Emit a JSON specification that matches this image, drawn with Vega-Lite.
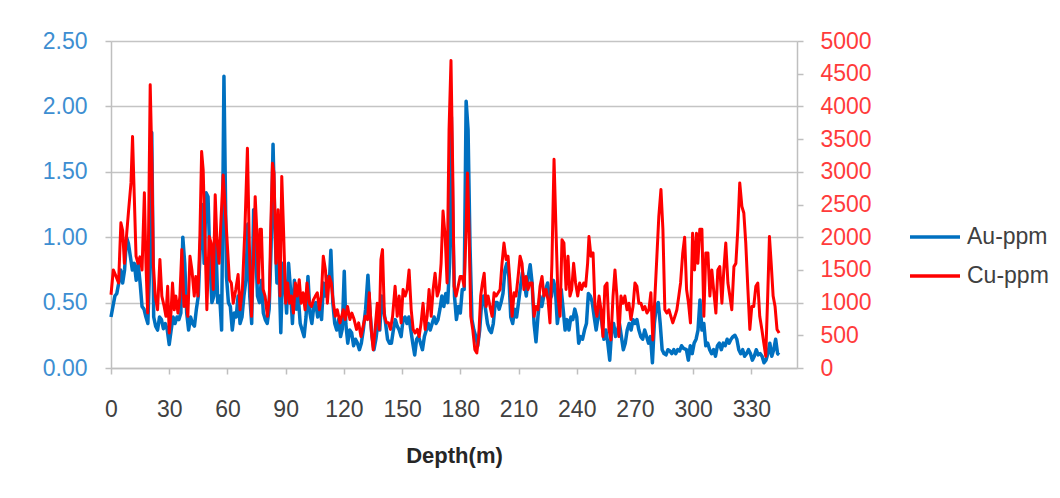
{
"$schema": "https://vega.github.io/schema/vega-lite/v6.json",
"width": 686, "height": 327,
"autosize": "none",
"padding": {"left": 111, "top": 41, "right": 263, "bottom": 130},
"background": "white",
"config": {
  "view": {"stroke": null},
  "font": "Liberation Sans",
  "axis": {"domainColor": "#bfbfbf", "domainWidth": 1.5, "tickColor": "#bfbfbf", "tickWidth": 1.5, "tickSize": 6, "gridColor": "#c4c4c4", "gridWidth": 1.5, "labelFontSize": 23, "labelFont": "Liberation Sans", "titleFont": "Liberation Sans"}
},
"datasets": {
"au": [{"d":0,"v":0.39},{"d":1,"v":0.47},{"d":2,"v":0.55},{"d":3,"v":0.57},{"d":4,"v":0.65},{"d":5,"v":0.75},{"d":6,"v":0.65},{"d":7,"v":0.75},{"d":8,"v":1.0},{"d":9,"v":0.95},{"d":10,"v":0.85},{"d":11,"v":0.75},{"d":12,"v":0.8},{"d":13,"v":0.67},{"d":14,"v":0.8},{"d":15,"v":0.65},{"d":16,"v":0.47},{"d":17,"v":0.45},{"d":18,"v":0.39},{"d":19,"v":0.34},{"d":20,"v":0.8},{"d":21,"v":1.8},{"d":22,"v":0.39},{"d":23,"v":0.32},{"d":24,"v":0.29},{"d":25,"v":0.39},{"d":26,"v":0.37},{"d":27,"v":0.3},{"d":28,"v":0.34},{"d":29,"v":0.29},{"d":30,"v":0.18},{"d":31,"v":0.29},{"d":32,"v":0.39},{"d":33,"v":0.34},{"d":34,"v":0.39},{"d":35,"v":0.37},{"d":36,"v":0.42},{"d":37,"v":1.0},{"d":38,"v":0.8},{"d":39,"v":0.42},{"d":40,"v":0.29},{"d":41,"v":0.39},{"d":42,"v":0.34},{"d":43,"v":0.32},{"d":44,"v":0.45},{"d":45,"v":0.55},{"d":46,"v":0.93},{"d":47,"v":1.25},{"d":48,"v":0.8},{"d":49,"v":1.34},{"d":50,"v":1.31},{"d":51,"v":0.8},{"d":52,"v":0.5},{"d":53,"v":0.55},{"d":54,"v":0.98},{"d":55,"v":0.5},{"d":56,"v":0.55},{"d":57,"v":0.29},{"d":58.2,"v":2.23},{"d":59.5,"v":0.7},{"d":60.5,"v":0.5},{"d":61.5,"v":0.47},{"d":62.5,"v":0.29},{"d":63.5,"v":0.42},{"d":64.5,"v":0.39},{"d":65.5,"v":0.55},{"d":66.5,"v":0.34},{"d":67.5,"v":0.39},{"d":68.5,"v":0.55},{"d":69.5,"v":0.67},{"d":70.5,"v":1.1},{"d":71.5,"v":0.55},{"d":72.5,"v":0.34},{"d":73.5,"v":1.21},{"d":74.5,"v":0.93},{"d":75.5,"v":0.55},{"d":76.5,"v":0.5},{"d":77.5,"v":0.67},{"d":78.5,"v":0.42},{"d":79.5,"v":0.37},{"d":80.5,"v":0.34},{"d":81.5,"v":0.45},{"d":82.5,"v":0.93},{"d":83.5,"v":1.71},{"d":84.5,"v":1.06},{"d":85.5,"v":0.65},{"d":86.5,"v":0.8},{"d":87.5,"v":0.27},{"d":88.5,"v":0.8},{"d":89.5,"v":0.65},{"d":90.5,"v":0.42},{"d":91.5,"v":0.8},{"d":92.5,"v":0.6},{"d":93.5,"v":0.34},{"d":94.5,"v":0.67},{"d":95.5,"v":0.45},{"d":96.5,"v":0.55},{"d":97.5,"v":0.34},{"d":98.5,"v":0.29},{"d":99.5,"v":0.24},{"d":100.5,"v":0.39},{"d":101.5,"v":0.7},{"d":102.5,"v":0.42},{"d":103.5,"v":0.34},{"d":104.5,"v":0.47},{"d":105.5,"v":0.5},{"d":106.5,"v":0.39},{"d":107.5,"v":0.47},{"d":108.5,"v":0.37},{"d":109.5,"v":0.65},{"d":110.5,"v":0.55},{"d":111.5,"v":0.7},{"d":112.5,"v":0.65},{"d":113.3,"v":0.9},{"d":114.3,"v":0.5},{"d":115.3,"v":0.34},{"d":116.3,"v":0.29},{"d":117.3,"v":0.37},{"d":118.3,"v":0.24},{"d":119.2,"v":0.3},{"d":120.2,"v":0.74},{"d":121,"v":0.34},{"d":122,"v":0.19},{"d":123,"v":0.29},{"d":124,"v":0.27},{"d":125,"v":0.17},{"d":126,"v":0.22},{"d":127,"v":0.19},{"d":128,"v":0.14},{"d":129,"v":0.19},{"d":130,"v":0.29},{"d":131.2,"v":0.45},{"d":132.4,"v":0.71},{"d":133.5,"v":0.42},{"d":134.5,"v":0.24},{"d":135.5,"v":0.14},{"d":136.5,"v":0.22},{"d":137.5,"v":0.34},{"d":138.5,"v":0.29},{"d":139.5,"v":0.55},{"d":140.5,"v":0.45},{"d":141.5,"v":0.34},{"d":142.5,"v":0.22},{"d":143.5,"v":0.19},{"d":144.5,"v":0.19},{"d":145.5,"v":0.29},{"d":146.5,"v":0.37},{"d":147.5,"v":0.32},{"d":148.5,"v":0.29},{"d":149.5,"v":0.24},{"d":150.5,"v":0.37},{"d":151.5,"v":0.39},{"d":152.5,"v":0.34},{"d":153.5,"v":0.39},{"d":154.5,"v":0.29},{"d":155.5,"v":0.19},{"d":156.5,"v":0.1},{"d":157.5,"v":0.22},{"d":158.5,"v":0.24},{"d":159.5,"v":0.19},{"d":160.5,"v":0.14},{"d":161.5,"v":0.24},{"d":162.5,"v":0.29},{"d":163.5,"v":0.34},{"d":164.5,"v":0.29},{"d":165.5,"v":0.34},{"d":166.5,"v":0.39},{"d":167.5,"v":0.34},{"d":168.5,"v":0.37},{"d":169.5,"v":0.45},{"d":170.5,"v":0.55},{"d":171.5,"v":0.47},{"d":172.5,"v":0.57},{"d":173.5,"v":0.5},{"d":174.5,"v":0.8},{"d":175.4,"v":1.92},{"d":176.3,"v":1.0},{"d":177,"v":0.55},{"d":178,"v":0.37},{"d":179,"v":0.47},{"d":180,"v":0.42},{"d":181,"v":0.6},{"d":182,"v":0.6},{"d":183,"v":2.04},{"d":184,"v":1.82},{"d":185,"v":0.93},{"d":186,"v":0.37},{"d":187,"v":0.29},{"d":188,"v":0.24},{"d":189,"v":0.17},{"d":190,"v":0.29},{"d":191,"v":0.5},{"d":192,"v":0.55},{"d":193,"v":0.45},{"d":194,"v":0.34},{"d":195,"v":0.29},{"d":196,"v":0.27},{"d":197,"v":0.34},{"d":198,"v":0.5},{"d":199,"v":0.5},{"d":200,"v":0.45},{"d":201,"v":0.5},{"d":202,"v":0.57},{"d":203,"v":0.75},{"d":204,"v":0.8},{"d":205,"v":0.7},{"d":206,"v":0.39},{"d":207,"v":0.34},{"d":208,"v":0.45},{"d":209,"v":0.39},{"d":210,"v":0.5},{"d":211,"v":0.62},{"d":212,"v":0.73},{"d":213,"v":0.65},{"d":214,"v":0.55},{"d":215,"v":0.7},{"d":216,"v":0.79},{"d":217,"v":0.65},{"d":218,"v":0.34},{"d":219,"v":0.2},{"d":220,"v":0.39},{"d":221,"v":0.55},{"d":222,"v":0.47},{"d":223,"v":0.55},{"d":224,"v":0.6},{"d":225,"v":0.65},{"d":226,"v":0.52},{"d":227,"v":0.55},{"d":228,"v":0.67},{"d":229,"v":0.6},{"d":230,"v":0.34},{"d":231,"v":0.45},{"d":232,"v":0.6},{"d":233,"v":0.45},{"d":234,"v":0.29},{"d":235,"v":0.37},{"d":236,"v":0.29},{"d":237,"v":0.39},{"d":238,"v":0.37},{"d":239,"v":0.45},{"d":240,"v":0.39},{"d":241,"v":0.19},{"d":242,"v":0.24},{"d":243,"v":0.22},{"d":244,"v":0.29},{"d":245,"v":0.34},{"d":246,"v":0.57},{"d":247,"v":0.55},{"d":248,"v":0.5},{"d":249,"v":0.39},{"d":250,"v":0.29},{"d":251,"v":0.39},{"d":252,"v":0.45},{"d":253,"v":0.34},{"d":254,"v":0.22},{"d":255,"v":0.29},{"d":256,"v":0.19},{"d":257,"v":0.06},{"d":258,"v":0.29},{"d":259,"v":0.34},{"d":260,"v":0.24},{"d":261,"v":0.29},{"d":262,"v":0.34},{"d":263,"v":0.24},{"d":264,"v":0.14},{"d":265,"v":0.19},{"d":266,"v":0.29},{"d":267,"v":0.34},{"d":268,"v":0.29},{"d":269,"v":0.37},{"d":270,"v":0.34},{"d":271,"v":0.37},{"d":272,"v":0.29},{"d":273,"v":0.24},{"d":274,"v":0.22},{"d":275,"v":0.29},{"d":276,"v":0.24},{"d":277,"v":0.19},{"d":278,"v":0.24},{"d":279,"v":0.04},{"d":280,"v":0.34},{"d":281,"v":0.47},{"d":282,"v":0.5},{"d":283,"v":0.34},{"d":284,"v":0.14},{"d":285,"v":0.11},{"d":286,"v":0.1},{"d":287,"v":0.14},{"d":288,"v":0.13},{"d":289,"v":0.11},{"d":290,"v":0.14},{"d":291,"v":0.11},{"d":292,"v":0.14},{"d":293,"v":0.13},{"d":294,"v":0.17},{"d":295,"v":0.15},{"d":296.5,"v":0.14},{"d":297.5,"v":0.06},{"d":298.5,"v":0.17},{"d":299.5,"v":0.11},{"d":300.5,"v":0.19},{"d":301.5,"v":0.22},{"d":302.5,"v":0.29},{"d":303.5,"v":0.52},{"d":304.5,"v":0.29},{"d":305.5,"v":0.34},{"d":306.5,"v":0.17},{"d":307.5,"v":0.19},{"d":308.5,"v":0.14},{"d":309.5,"v":0.11},{"d":310.5,"v":0.14},{"d":311.5,"v":0.09},{"d":312.5,"v":0.17},{"d":313.5,"v":0.19},{"d":314.5,"v":0.14},{"d":315.5,"v":0.19},{"d":316.5,"v":0.17},{"d":317.5,"v":0.22},{"d":318.5,"v":0.19},{"d":319.5,"v":0.22},{"d":320.5,"v":0.24},{"d":321.5,"v":0.25},{"d":322.5,"v":0.22},{"d":323.5,"v":0.14},{"d":324.5,"v":0.11},{"d":325.5,"v":0.14},{"d":326.5,"v":0.09},{"d":327.5,"v":0.11},{"d":328.5,"v":0.14},{"d":329.5,"v":0.11},{"d":330.5,"v":0.06},{"d":331.5,"v":0.09},{"d":332.5,"v":0.14},{"d":333.5,"v":0.1},{"d":334.5,"v":0.11},{"d":335.5,"v":0.09},{"d":336.5,"v":0.04},{"d":337.5,"v":0.06},{"d":338.5,"v":0.11},{"d":339.5,"v":0.19},{"d":340.5,"v":0.09},{"d":341.5,"v":0.14},{"d":342.5,"v":0.22},{"d":343.5,"v":0.11},{"d":344.3,"v":0.1}],
"cu": [{"d":0,"v":1120},{"d":1.2,"v":1500},{"d":2.6,"v":1400},{"d":3.9,"v":1300},{"d":5.1,"v":2220},{"d":6,"v":2100},{"d":6.9,"v":1600},{"d":8.1,"v":2060},{"d":9.1,"v":2420},{"d":10.3,"v":2830},{"d":11.1,"v":3540},{"d":12,"v":2620},{"d":12.9,"v":1710},{"d":13.9,"v":1600},{"d":14.9,"v":1700},{"d":16,"v":1500},{"d":17.2,"v":2680},{"d":18,"v":1600},{"d":18.9,"v":840},{"d":20.2,"v":4330},{"d":21.1,"v":3130},{"d":21.8,"v":1600},{"d":22.8,"v":1100},{"d":24,"v":890},{"d":25.2,"v":1660},{"d":26.2,"v":1100},{"d":27.4,"v":940},{"d":28.3,"v":790},{"d":29.2,"v":1250},{"d":30,"v":535},{"d":30.9,"v":840},{"d":31.7,"v":1300},{"d":32.6,"v":890},{"d":33.4,"v":1100},{"d":34.5,"v":840},{"d":35.5,"v":1100},{"d":36.5,"v":1810},{"d":37.6,"v":940},{"d":38.6,"v":1100},{"d":39.6,"v":790},{"d":40.7,"v":1710},{"d":41.7,"v":1500},{"d":42.9,"v":1100},{"d":43.7,"v":1400},{"d":44.8,"v":1100},{"d":45.8,"v":2010},{"d":46.7,"v":3310},{"d":47.5,"v":3030},{"d":48.4,"v":2010},{"d":49.4,"v":890},{"d":50.6,"v":2010},{"d":51.6,"v":1910},{"d":52.7,"v":1200},{"d":53.7,"v":2650},{"d":54.5,"v":2010},{"d":55.7,"v":1600},{"d":56.6,"v":2220},{"d":57.8,"v":2950},{"d":59.7,"v":2010},{"d":61,"v":1350},{"d":62,"v":1300},{"d":63,"v":990},{"d":64.3,"v":1200},{"d":65.5,"v":1430},{"d":66.5,"v":890},{"d":67.7,"v":1200},{"d":69,"v":2120},{"d":70.3,"v":3360},{"d":71.3,"v":1860},{"d":72.4,"v":790},{"d":73.4,"v":1600},{"d":74.3,"v":2620},{"d":75.1,"v":2120},{"d":76,"v":1300},{"d":76.8,"v":2120},{"d":77.5,"v":2120},{"d":78.4,"v":1200},{"d":79.4,"v":1100},{"d":80.6,"v":790},{"d":81.6,"v":1100},{"d":82.3,"v":2120},{"d":83.2,"v":3130},{"d":84,"v":2980},{"d":85,"v":1600},{"d":86.1,"v":2420},{"d":87.1,"v":1100},{"d":88,"v":2930},{"d":88.9,"v":2120},{"d":90,"v":990},{"d":91,"v":1300},{"d":92,"v":990},{"d":93,"v":1100},{"d":94,"v":840},{"d":95,"v":1300},{"d":96,"v":1100},{"d":97,"v":1350},{"d":98,"v":990},{"d":99,"v":1150},{"d":100,"v":890},{"d":101,"v":1300},{"d":102.2,"v":990},{"d":103.3,"v":940},{"d":104.3,"v":1040},{"d":105.3,"v":1100},{"d":106.3,"v":1150},{"d":107.4,"v":890},{"d":108.4,"v":1100},{"d":109.4,"v":1710},{"d":110.5,"v":1500},{"d":111.5,"v":990},{"d":112.5,"v":1400},{"d":113.5,"v":1300},{"d":114.6,"v":990},{"d":115.6,"v":790},{"d":116.6,"v":890},{"d":118,"v":690},{"d":119.7,"v":890},{"d":120.7,"v":740},{"d":121.9,"v":940},{"d":123.1,"v":740},{"d":124.1,"v":840},{"d":125.3,"v":740},{"d":126.5,"v":590},{"d":127.6,"v":690},{"d":128.8,"v":480},{"d":129.6,"v":590},{"d":131,"v":790},{"d":132.2,"v":740},{"d":133.1,"v":1150},{"d":134.1,"v":590},{"d":135.1,"v":280},{"d":136.1,"v":590},{"d":137.2,"v":990},{"d":138.2,"v":590},{"d":139.1,"v":1660},{"d":139.9,"v":1810},{"d":140.9,"v":790},{"d":142,"v":690},{"d":143,"v":690},{"d":144,"v":590},{"d":145.1,"v":790},{"d":146.4,"v":1250},{"d":147.5,"v":790},{"d":148.5,"v":1100},{"d":149.5,"v":690},{"d":150.5,"v":1200},{"d":151.6,"v":1100},{"d":152.6,"v":1200},{"d":153.6,"v":1500},{"d":154.7,"v":890},{"d":155.7,"v":590},{"d":156.7,"v":535},{"d":157.8,"v":590},{"d":158.8,"v":480},{"d":159.8,"v":690},{"d":160.8,"v":990},{"d":161.9,"v":590},{"d":162.9,"v":790},{"d":163.9,"v":1200},{"d":165,"v":790},{"d":166,"v":1200},{"d":167,"v":1450},{"d":168.1,"v":1100},{"d":169.1,"v":1200},{"d":170.1,"v":1600},{"d":171.1,"v":2400},{"d":172.2,"v":2010},{"d":173.2,"v":1300},{"d":174.2,"v":3640},{"d":175.2,"v":4700},{"d":176.1,"v":3000},{"d":176.8,"v":1250},{"d":177.8,"v":1100},{"d":178.9,"v":1250},{"d":179.9,"v":1400},{"d":180.9,"v":1400},{"d":182,"v":1250},{"d":183,"v":2120},{"d":183.7,"v":2980},{"d":184.5,"v":2120},{"d":185.4,"v":790},{"d":186.4,"v":590},{"d":187.5,"v":280},{"d":188.5,"v":230},{"d":189.5,"v":480},{"d":190.5,"v":1100},{"d":191.4,"v":1300},{"d":192.3,"v":1450},{"d":193.3,"v":940},{"d":194.3,"v":1100},{"d":195.3,"v":940},{"d":196.4,"v":790},{"d":197.4,"v":1150},{"d":198.4,"v":1100},{"d":199.5,"v":1150},{"d":200.5,"v":1200},{"d":201.5,"v":1600},{"d":202.5,"v":1910},{"d":203.6,"v":1660},{"d":204.6,"v":1710},{"d":205.6,"v":1300},{"d":206.7,"v":790},{"d":207.7,"v":1150},{"d":208.7,"v":1100},{"d":209.8,"v":1400},{"d":210.8,"v":1710},{"d":211.8,"v":1600},{"d":212.8,"v":1200},{"d":213.9,"v":1400},{"d":214.9,"v":1200},{"d":215.9,"v":1300},{"d":217,"v":1300},{"d":218,"v":790},{"d":219,"v":940},{"d":220,"v":890},{"d":221.1,"v":1250},{"d":222.1,"v":1400},{"d":223.1,"v":1100},{"d":224.2,"v":1200},{"d":225.2,"v":1040},{"d":226.2,"v":690},{"d":227.2,"v":1600},{"d":228.3,"v":3190},{"d":229.3,"v":2120},{"d":230.3,"v":1100},{"d":231.4,"v":790},{"d":232.4,"v":1960},{"d":233.4,"v":1910},{"d":234.5,"v":1200},{"d":235.5,"v":1710},{"d":236.5,"v":1100},{"d":237.4,"v":1200},{"d":238.4,"v":1600},{"d":239.4,"v":1300},{"d":240.5,"v":1100},{"d":241.5,"v":1300},{"d":242.5,"v":1200},{"d":243.6,"v":1300},{"d":244.6,"v":1250},{"d":245.6,"v":1600},{"d":246.3,"v":2010},{"d":247.3,"v":1710},{"d":248.4,"v":1760},{"d":249.4,"v":940},{"d":250.4,"v":790},{"d":251.5,"v":1100},{"d":252.5,"v":890},{"d":253.5,"v":480},{"d":254.5,"v":1250},{"d":255.6,"v":1300},{"d":256.6,"v":590},{"d":257.6,"v":430},{"d":258.7,"v":1100},{"d":259.7,"v":1500},{"d":260.7,"v":1100},{"d":261.7,"v":480},{"d":262.8,"v":1100},{"d":263.8,"v":990},{"d":264.8,"v":1100},{"d":265.9,"v":890},{"d":266.9,"v":990},{"d":267.9,"v":740},{"d":269,"v":940},{"d":270,"v":1300},{"d":271,"v":1250},{"d":272,"v":990},{"d":273.1,"v":990},{"d":274.1,"v":890},{"d":275.1,"v":940},{"d":276.2,"v":840},{"d":277.2,"v":890},{"d":278.2,"v":1150},{"d":279.2,"v":430},{"d":280.3,"v":1100},{"d":281.3,"v":1710},{"d":282.3,"v":2320},{"d":283.4,"v":2730},{"d":284.4,"v":2120},{"d":285.4,"v":890},{"d":286.4,"v":840},{"d":287.5,"v":890},{"d":288.5,"v":790},{"d":289.5,"v":690},{"d":290.6,"v":790},{"d":291.6,"v":890},{"d":292.6,"v":1100},{"d":293.5,"v":1300},{"d":294.6,"v":1750},{"d":295.6,"v":2000},{"d":296.6,"v":1200},{"d":297.6,"v":990},{"d":298.6,"v":690},{"d":299.7,"v":2060},{"d":300.7,"v":1500},{"d":301.7,"v":2060},{"d":302.4,"v":1600},{"d":303.4,"v":2120},{"d":304.5,"v":2120},{"d":305.5,"v":790},{"d":306.5,"v":1760},{"d":307.6,"v":1760},{"d":308.6,"v":1100},{"d":309.6,"v":1500},{"d":310.7,"v":1150},{"d":311.7,"v":840},{"d":312.7,"v":1500},{"d":313.7,"v":1550},{"d":314.8,"v":990},{"d":315.8,"v":1500},{"d":316.8,"v":1910},{"d":317.9,"v":1300},{"d":318.9,"v":1100},{"d":319.9,"v":890},{"d":321,"v":1550},{"d":322,"v":1600},{"d":323,"v":2120},{"d":324,"v":2830},{"d":325.1,"v":2470},{"d":326.1,"v":2370},{"d":327.1,"v":1910},{"d":328.2,"v":1200},{"d":329.2,"v":590},{"d":330.2,"v":940},{"d":331.2,"v":940},{"d":332.3,"v":1250},{"d":333.3,"v":1300},{"d":334.3,"v":790},{"d":335.4,"v":590},{"d":336.4,"v":380},{"d":337.4,"v":180},{"d":338.4,"v":1100},{"d":339.3,"v":2010},{"d":340.2,"v":1600},{"d":341.2,"v":1100},{"d":342.2,"v":940},{"d":343.2,"v":590},{"d":344.3,"v":535}]
},
"layer": [
 {
  "data": {"name": "au"},
  "mark": {"type": "line", "strokeWidth": 3.5, "strokeJoin": "round"},
  "encoding": {
   "x": {"field": "d", "type": "quantitative",
     "scale": {"domain": [0, 353.5], "nice": false, "zero": false},
     "axis": {"values": [0,30,60,90,120,150,180,210,240,270,300,330], "grid": false, "title": "Depth(m)", "titleFontSize": 22, "titleFontWeight": "bold", "titleColor": "#262626", "titlePadding": 24, "labelColor": "#404040", "labelPadding": 24, "labelFlush": false}},
   "y": {"field": "v", "type": "quantitative",
     "scale": {"domain": [0, 2.5], "nice": false, "zero": true},
     "axis": {"orient": "left", "values": [0,0.5,1,1.5,2,2.5], "format": ".2f", "grid": true, "title": null, "labelColor": "#3d8ed1", "labelPadding": 18}},
   "color": {"datum": "Au-ppm", "type": "nominal",
     "scale": {"domain": ["Au-ppm", "Cu-ppm"], "range": ["#0070c0", "#ff0000"]},
     "legend": {"orient": "none", "legendX": 797, "legendY": 169, "title": null, "symbolType": "stroke", "symbolSize": 2500, "symbolStrokeWidth": 3.5, "labelFontSize": 23, "labelColor": "#404040", "labelOffset": 5, "rowPadding": -5, "padding": 0}}
  }
 },
 {
  "data": {"name": "cu"},
  "mark": {"type": "line", "strokeWidth": 3, "strokeJoin": "round"},
  "encoding": {
   "x": {"field": "d", "type": "quantitative", "scale": {"domain": [0, 353.5], "nice": false, "zero": false}},
   "y": {"field": "v", "type": "quantitative",
     "scale": {"domain": [0, 5000], "nice": false, "zero": true},
     "axis": {"orient": "right", "values": [0,500,1000,1500,2000,2500,3000,3500,4000,4500,5000], "format": "d", "grid": false, "title": null, "labelColor": "#ff3b3b", "labelPadding": 17}},
   "color": {"datum": "Cu-ppm", "type": "nominal"}
  }
 }
],
"resolve": {"scale": {"y": "independent"}}
}
